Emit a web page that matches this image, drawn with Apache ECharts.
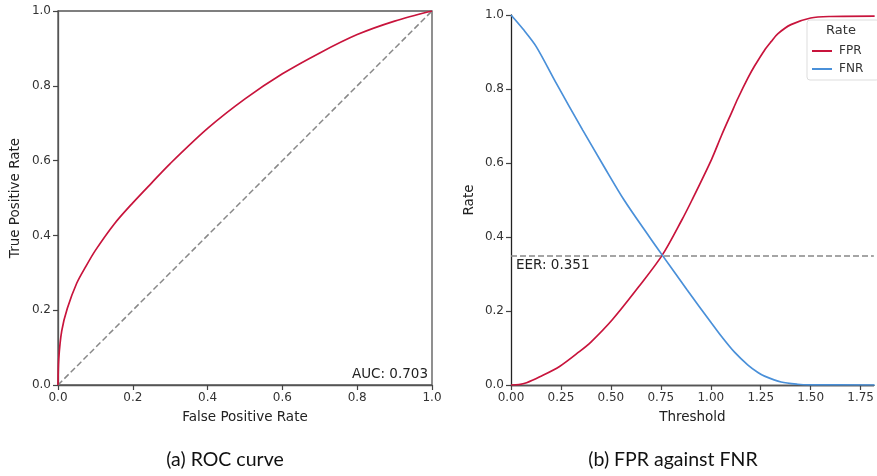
<!DOCTYPE html>
<html>
<head>
<meta charset="utf-8">
<script src="https://cdn.jsdelivr.net/npm/echarts@6/dist/echarts.min.js"></script>
<style>
  html, body { margin: 0; padding: 0; background: #fff; }
  #chart { width: 877px; height: 476px; }
</style>
</head>
<body>
<div id="chart"></div>
<script>
// ROC curve points (false positive rate, true positive rate)
const rocFpr = [0, 0.002, 0.01, 0.025, 0.05, 0.075, 0.1, 0.15, 0.2, 0.25, 0.3, 0.4, 0.5, 0.6, 0.7, 0.8, 0.9, 1.0];
const rocTpr = [0, 0.07, 0.145, 0.205, 0.272, 0.318, 0.36, 0.43, 0.487, 0.54, 0.592, 0.686, 0.765, 0.832, 0.888, 0.937, 0.973, 1.0];
const aucValue = 0.703;

// FPR / FNR as functions of the decision threshold
const fprThreshold = [0, 0.04, 0.078, 0.144, 0.243, 0.342, 0.40, 0.508, 0.640, 0.757, 0.855, 0.906, 1.004, 1.054, 1.103, 1.136, 1.186, 1.219, 1.269, 1.302, 1.335, 1.401, 1.5, 1.6, 1.82];
const fprValues    = [0, 0.001, 0.006, 0.022, 0.05, 0.09, 0.116, 0.177, 0.266, 0.351, 0.446, 0.5, 0.61, 0.675, 0.735, 0.775, 0.83, 0.862, 0.905, 0.928, 0.949, 0.974, 0.992, 0.996, 0.997];
const fnrThreshold = [0, 0.06, 0.127, 0.227, 0.359, 0.466, 0.566, 0.693, 0.757, 0.88, 1.004, 1.054, 1.12, 1.186, 1.236, 1.269, 1.352, 1.434, 1.5, 1.82];
const fnrValues    = [1, 0.962, 0.914, 0.815, 0.689, 0.590, 0.500, 0.400, 0.351, 0.258, 0.167, 0.131, 0.088, 0.054, 0.034, 0.024, 0.008, 0.002, 0.0005, 0];
const eerValue = 0.351;

const thresholdMax = 1.816;

const RED = '#c8143c';
const BLUE = '#4a90d9';
const GREY = '#888888';
const SPINE = '#444444';
const FONT = '"DejaVu Sans", sans-serif';

const zip = (a, b) => a.map((v, i) => [v, b[i]]);

const tickCommon = {
  axisTick: { show: true, inside: false, length: 5, lineStyle: { color: SPINE, width: 1.2 } },
  splitLine: { show: false },
  axisLabel: { color: '#333', fontFamily: FONT, fontSize: 12, margin: 7 },
  nameTextStyle: { color: '#222', fontFamily: FONT, fontSize: 13.5 }
};

const chart = echarts.init(document.getElementById('chart'), null, { renderer: 'canvas' });

chart.setOption({
  animation: false,
  backgroundColor: '#ffffff',
  grid: [
    { left: 58, top: 11, width: 374, height: 374, show: true, borderColor: '#555', borderWidth: 1.3, backgroundColor: 'transparent' },
    { left: 511, top: 15, width: 366, height: 370 }
  ],
  xAxis: [
    Object.assign({}, tickCommon, {
      gridIndex: 0, type: 'value', min: 0, max: 1, interval: 0.2,
      name: 'False Positive Rate', nameLocation: 'middle', nameGap: 25,
      axisLine: { show: true, lineStyle: { color: '#555', width: 1.3 } },
      axisLabel: Object.assign({}, tickCommon.axisLabel, { formatter: v => v.toFixed(1) })
    }),
    Object.assign({}, tickCommon, {
      gridIndex: 1, type: 'value', min: 0, max: thresholdMax, interval: 0.25,
      name: 'Threshold', nameLocation: 'middle', nameGap: 25,
      axisLine: { show: true, onZero: false, lineStyle: { color: SPINE, width: 1.3 } },
      axisLabel: Object.assign({}, tickCommon.axisLabel, {
        showMaxLabel: false,
        formatter: v => (Math.abs(v / 0.25 - Math.round(v / 0.25)) < 1e-6 ? v.toFixed(2) : '')
      })
    }),
    {
      gridIndex: 1, type: 'value', min: 0, max: thresholdMax, position: 'top',
      axisLine: { show: true, lineStyle: { color: '#555', width: 1.3 } },
      axisTick: { show: false }, axisLabel: { show: false }, splitLine: { show: false }
    }
  ],
  yAxis: [
    Object.assign({}, tickCommon, {
      gridIndex: 0, type: 'value', min: 0, max: 1, interval: 0.2,
      name: 'True Positive Rate', nameLocation: 'middle', nameGap: 36,
      axisLine: { show: true, lineStyle: { color: '#555', width: 1.3 } },
      axisLabel: Object.assign({}, tickCommon.axisLabel, { formatter: v => v.toFixed(1) })
    }),
    Object.assign({}, tickCommon, {
      gridIndex: 1, type: 'value', min: 0, max: 1, interval: 0.2,
      name: 'Rate', nameLocation: 'middle', nameGap: 35,
      axisLine: { show: true, lineStyle: { color: '#222', width: 1.3 } },
      axisLabel: Object.assign({}, tickCommon.axisLabel, { formatter: v => v.toFixed(1) })
    })
  ],
  legend: {
    data: ['FPR', 'FNR'],
    orient: 'vertical',
    left: 807, top: 20,
    padding: [25, 16, 5, 5],
    itemGap: 6,
    itemWidth: 20, itemHeight: 2,
    icon: 'rect',
    backgroundColor: 'rgba(255,255,255,0.85)',
    borderColor: '#dddddd', borderWidth: 1, borderRadius: 3,
    textStyle: { color: '#333', fontFamily: FONT, fontSize: 12, padding: [0, 0, 0, 2] }
  },
  graphic: [
    { type: 'text', x: 841, y: 24, z: 100, style: { text: 'Rate', fill: '#333', font: '13px "DejaVu Sans", sans-serif', textAlign: 'center' } },
    { type: 'text', x: 428, y: 367, style: { text: 'AUC: ' + aucValue.toFixed(3), fill: '#222', font: '13.5px "DejaVu Sans", sans-serif', textAlign: 'right' } },
    { type: 'text', x: 516, y: 258, style: { text: 'EER: ' + eerValue.toFixed(3), fill: '#222', font: '13.5px "DejaVu Sans", sans-serif', textAlign: 'left' } },
    { type: 'text', x: 225, y: 450, style: { text: '(a) ROC curve', fill: '#111', font: '19.5px Lato, sans-serif', textAlign: 'center' } },
    { type: 'text', x: 673, y: 450, style: { text: '(b) FPR against FNR', fill: '#111', font: '19.5px Lato, sans-serif', textAlign: 'center' } }
  ],
  series: [
    {
      name: 'chance', type: 'line', xAxisIndex: 0, yAxisIndex: 0,
      data: [[0, 0], [1, 1]], showSymbol: false, silent: true,
      lineStyle: { color: GREY, width: 1.5, type: [6, 3] }
    },
    {
      name: 'ROC', type: 'line', xAxisIndex: 0, yAxisIndex: 0,
      data: zip(rocFpr, rocTpr), showSymbol: false, smooth: 0.3,
      lineStyle: { color: RED, width: 1.7 }
    },
    {
      name: 'FPR', type: 'line', xAxisIndex: 1, yAxisIndex: 1,
      data: zip(fprThreshold, fprValues), showSymbol: false, smooth: 0.3,
      itemStyle: { color: RED }, lineStyle: { color: RED, width: 1.7 },
      markLine: {
        silent: true, symbol: 'none', label: { show: false },
        lineStyle: { color: GREY, width: 1.5, type: [6, 3] },
        data: [{ yAxis: eerValue }]
      }
    },
    {
      name: 'FNR', type: 'line', xAxisIndex: 1, yAxisIndex: 1,
      data: zip(fnrThreshold, fnrValues), showSymbol: false, smooth: 0.3,
      itemStyle: { color: BLUE }, lineStyle: { color: BLUE, width: 1.7 }
    }
  ]
});
</script>
</body>
</html>
